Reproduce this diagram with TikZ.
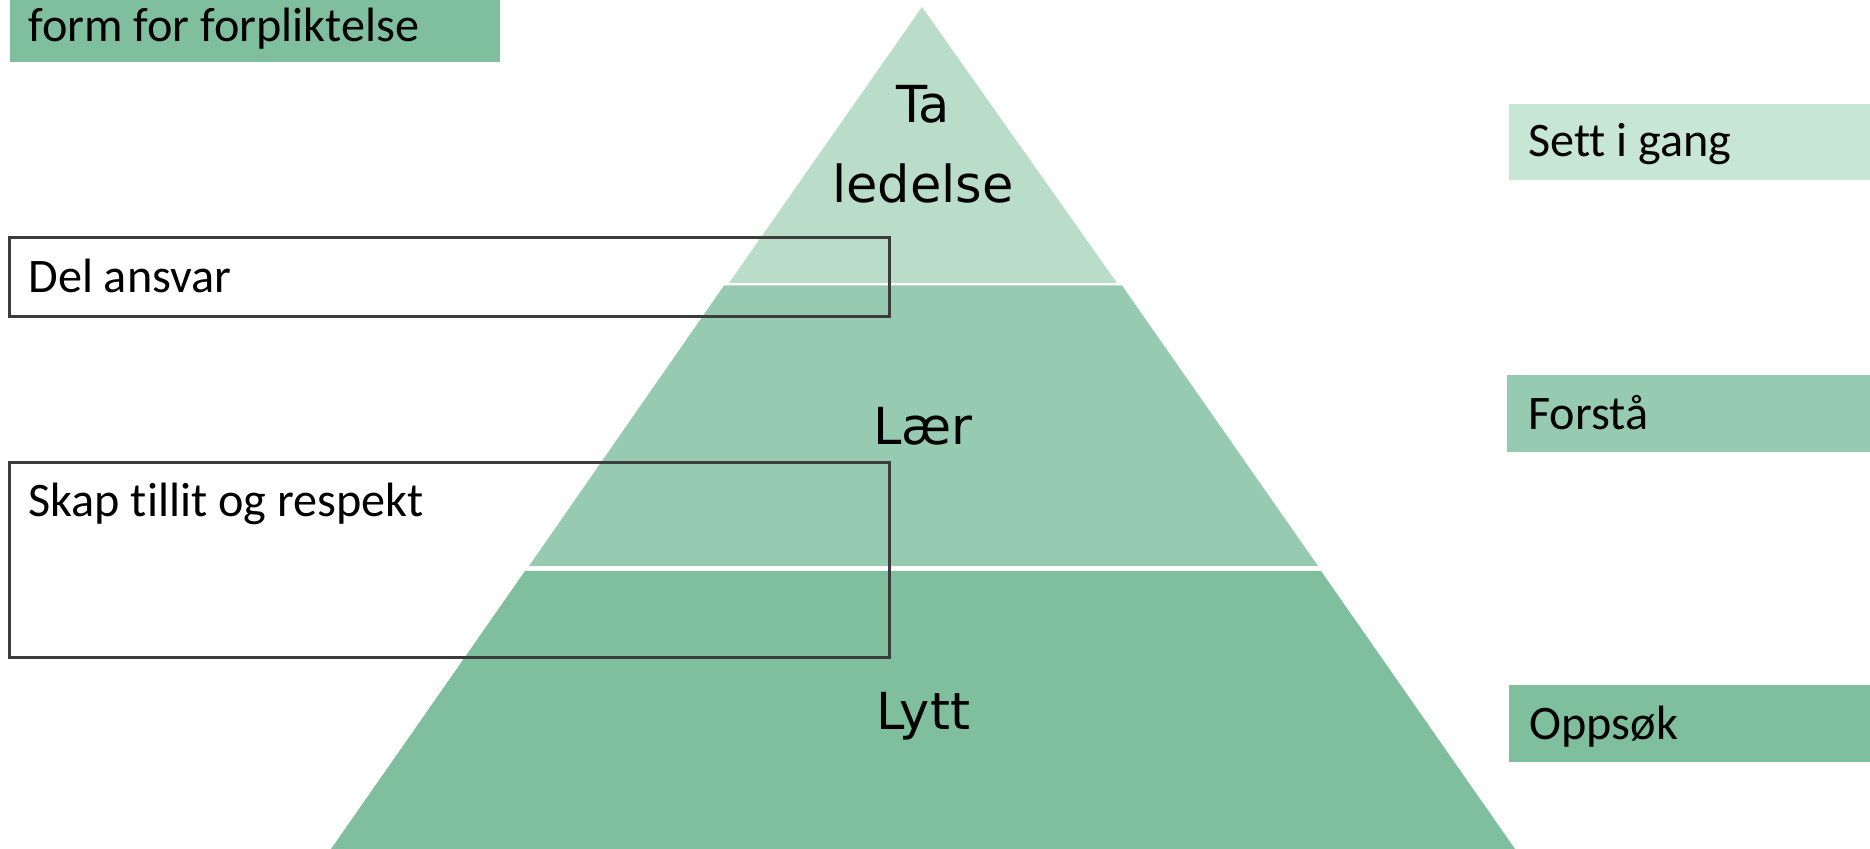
\documentclass[tikz,border=0pt]{standalone}
\usepackage{fontspec}
\setmainfont{Carlito}[Ligatures=NoCommon]
\newfontfamily\pyrfont{DejaVu Sans}
\definecolor{tiertop}{HTML}{BADDCA}
\definecolor{tiermid}{HTML}{97CBB1}
\definecolor{tierbot}{HTML}{7FBF9E}
\definecolor{taglight}{HTML}{C8E6D6}
\definecolor{framegray}{HTML}{3C3C3C}
\begin{document}
\begin{tikzpicture}[x=0.5pt,y=-0.5pt, line join=miter,
    boxtxt/.style={anchor=base west, inner sep=0pt, font=\fontsize{24.1}{29}\selectfont},
    tiertxt/.style={anchor=base, inner sep=0pt, font=\pyrfont\fontsize{25.5}{30}\selectfont},
    frame/.style={draw=framegray, line width=1.5pt}]
    \def\xmid{923} % midten av pyramiden
    \useasboundingbox (0,0) rectangle (1870,849);
    % pyramiden
    \fill[tiertop] (922,7) -- (1117,283) -- (729,283) -- cycle;
    \fill[tiermid] (724,285.5) -- (1122,285.5) -- (1318,566) -- (529,566) -- cycle;
    \fill[tierbot] (525,571) -- (1321,571) -- (1515,849) -- (331,849) -- cycle;
    \node[tiertxt] (ta) at (\xmid,123) {Ta};
    \node[tiertxt] (ledelse) at (\xmid,203) {ledelse};
    \node[tiertxt] (laer) at (\xmid,445) {Lær};
    \node[tiertxt] (lytt) at (\xmid,730) {Lytt};
    % felt til venstre
    \fill[tierbot] (10,0) rectangle (500,62);
    \node[boxtxt] (forpliktelse) at (28,42) {form for forpliktelse};
    \draw[frame] (9,238) rectangle (889,317);
    \node[boxtxt] (ansvar) at (28,293) {Del ansvar};
    \draw[frame] (9,463) rectangle (889,658);
    \node[boxtxt] (tillit) at (28,517) {Skap tillit og respekt};
    % felt til hoyre
    \fill[taglight] (1509,104) rectangle (1870,180);
    \node[boxtxt] (settigang) at (1528,157) {Sett i gang};
    \fill[tiermid] (1507,375) rectangle (1870,452);
    \node[boxtxt] (forsta) at (1528,430) {Forstå};
    \fill[tierbot] (1509,685) rectangle (1870,762);
    \node[boxtxt] (oppsok) at (1529,740) {Oppsøk};
\end{tikzpicture}
\end{document}
